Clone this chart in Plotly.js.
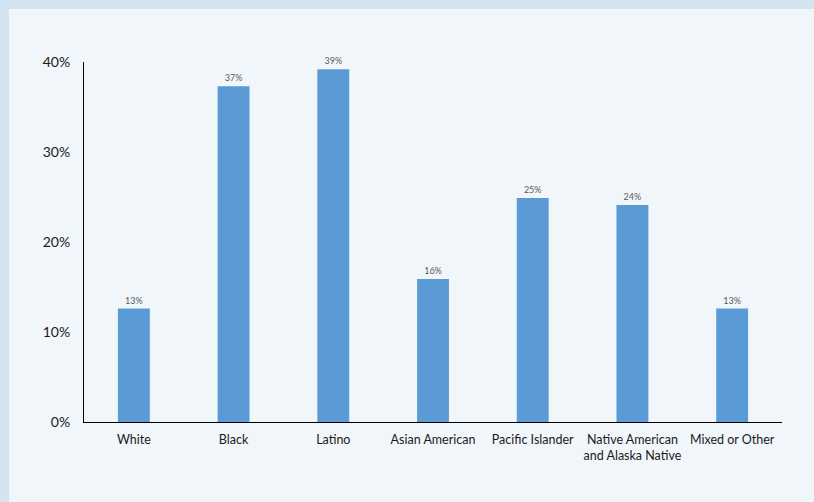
<!DOCTYPE html>
<html>
<head>
<meta charset="utf-8">
<script src="https://cdn.plot.ly/plotly-3.0.1.min.js"></script>
<style>
html,body{margin:0;padding:0;background:#d3e3ef;width:814px;height:502px;overflow:hidden;}
#chart{position:absolute;left:9px;top:9px;width:805px;height:493px;}
</style>
</head>
<body>
<div id="chart"></div>
<script>
const categories = ["White", "Black", "Latino", "Asian American", "Pacific Islander", "Native American<br>and Alaska Native", "Mixed or Other"];
const values = [12.6, 37.3, 39.2, 15.9, 24.9, 24.1, 12.6];
const tickVals = [0, 10, 20, 30, 40];
const tickText = ["0%", "10%", "20%", "30%", "40%"];

const trace = {
  type: "bar",
  x: categories,
  y: values,
  width: 0.32,
  marker: {color: "#5b9bd5"},
  text: values.map(v => Math.round(v) + "%"),
  textposition: "outside",
  cliponaxis: false,
  textfont: {family: "Lato, 'Open Sans', sans-serif", size: 9, color: "#595959"},
  hoverinfo: "skip"
};

const layout = {
  width: 805,
  height: 493,
  margin: {l: 75, r: 32, t: 53, b: 80},
  paper_bgcolor: "#f1f6fa",
  plot_bgcolor: "#f1f6fa",
  showlegend: false,
  font: {family: "Lato, 'Open Sans', sans-serif", color: "#1a1a1a"},
  xaxis: {
    type: "category",
    showline: true,
    linecolor: "#000000",
    linewidth: 1,
    ticks: "",
    showgrid: false,
    zeroline: false,
    ticklabelstandoff: 6,
    tickfont: {size: 12.5, color: "#1a1a1a"}
  },
  yaxis: {
    range: [0, 40],
    tickvals: tickVals,
    ticktext: tickText,
    showline: true,
    linecolor: "#000000",
    linewidth: 1,
    ticks: "",
    showgrid: false,
    zeroline: false,
    ticklabelstandoff: 10,
    tickfont: {size: 14, color: "#1a1a1a"}
  }
};

Plotly.newPlot("chart", [trace], layout, {displayModeBar: false, staticPlot: true});
</script>
</body>
</html>
